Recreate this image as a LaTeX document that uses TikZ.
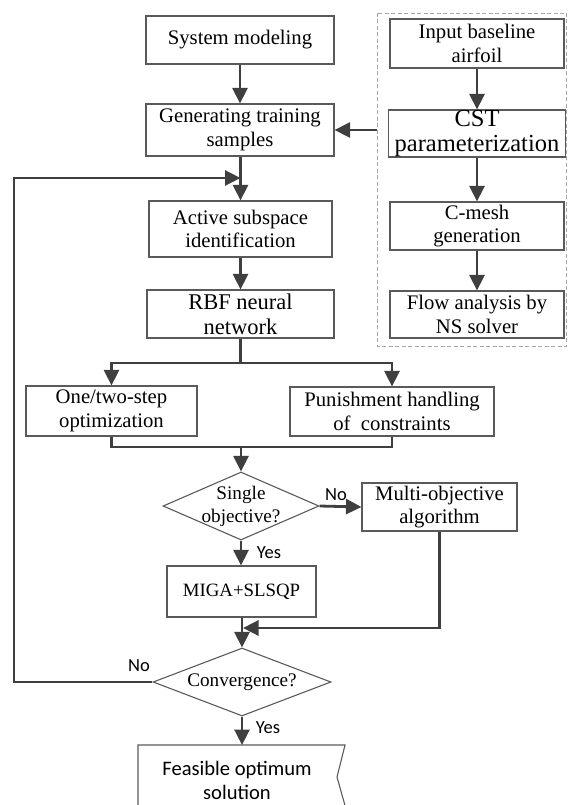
\documentclass[tikz,border=0pt]{standalone}
\usepackage{fontspec}
\setmainfont{Liberation Serif}
\newfontfamily\calibri{Carlito}
\usetikzlibrary{arrows.meta,shapes.geometric}
\definecolor{arrowgray}{HTML}{3F3F3F}
\definecolor{boxgray}{HTML}{5A5A5A}
\definecolor{dashgray}{HTML}{A6A6A6}
\begin{document}
\begin{tikzpicture}[x=1pt,y=-1pt,
  box/.style={draw=boxgray, line width=1.1pt, fill=white, rectangle, inner sep=0pt, align=center, font=\fontsize{20.7}{23.5}\selectfont},
  dia/.style={draw=boxgray, line width=1.1pt, fill=white, diamond, inner sep=0pt},
  diatext/.style={align=center, inner sep=0pt, font=\fontsize{19.2}{23}\selectfont},
  arr/.style={draw=arrowgray, line width=2.8pt, -{Triangle[length=15.5pt,width=15pt]}},
  ln/.style={draw=arrowgray, line width=2.8pt},
  yn/.style={font=\calibri\fontsize{18.5}{20}\selectfont, inner sep=0pt}]
\useasboundingbox (0,0) rectangle (567,805);

% main column
\node[box, minimum width=188pt, minimum height=48pt] (sys) at (240,40) {System modeling};
\node[box, minimum width=188pt, minimum height=52pt] (gen) at (240,130) {Generating training\\samples};
\node[box, minimum width=183pt, minimum height=56pt] (act) at (240.5,229) {Active subspace\\identification};
\node[box, minimum width=187pt, minimum height=48pt, font=\fontsize{22.5}{25}\selectfont] (rbf) at (240.5,314) {RBF neural\\network};
\node[box, minimum width=171pt, minimum height=50pt] (one) at (111.5,411) {One/two-step\\optimization};
\node[box, minimum width=204pt, minimum height=49pt] (pun) at (392,411.5) {Punishment handling\\of \ constraints};
\node[dia, minimum width=156pt, minimum height=68pt] (sd) at (241,506) {};
\node[diatext] (sdt) at (241,506.5) {Single\\objective?};
\node[box, minimum width=155pt, minimum height=48pt] (multi) at (439.5,507) {Multi-objective\\algorithm};
\node[box, minimum width=149pt, minimum height=51pt, font=\fontsize{18.8}{22}\selectfont] (miga) at (241.5,591.5) {MIGA+SLSQP};
\node[dia, minimum width=178pt, minimum height=68pt] (cv) at (242,682) {};
\node[diatext] (cvt) at (242,682) {Convergence?};

% feasible output shape (cut by page bottom)
\coordinate (ftop) at (242,745);
\draw[draw=boxgray, line width=1.1pt] (138,830) -- (138,745) -- (345,745) -- (337,777) -- (346,809) -- (348,830);
\node[font=\calibri\fontsize{20.6}{24}\selectfont, align=center, inner sep=0pt] (feas) at (237,780) {Feasible optimum\\solution};

% right dashed group
\coordinate (dnw) at (377,13);
\coordinate (dse) at (566.5,346);
\draw[draw=dashgray, line width=0.9pt, dash pattern=on 4pt off 2.5pt] (dnw) rectangle (dse);
\node[box, minimum width=174pt, minimum height=49pt] (inp) at (477,43.5) {Input baseline\\airfoil};
\node[box, minimum width=177pt, minimum height=47pt, font=\fontsize{24.5}{25}\selectfont] (cst) at (477,133.5) {CST\\parameterization};
\node[box, minimum width=174pt, minimum height=48pt] (cmesh) at (477,226) {C-mesh\\generation};
\node[box, minimum width=174pt, minimum height=47pt] (flow) at (477,314.5) {Flow analysis by\\NS solver};

% connectors right column
\draw[arr] (inp.south) -- (cst.north);
\draw[arr] (cst.south) -- (cmesh.north);
\draw[arr] (cmesh.south) -- (flow.north);
\draw[arr] (dnw |- gen.east) -- (gen.east);

% connectors main column
\draw[arr] (sys.south) -- (gen.north);
\draw[arr] (gen.south -| act.north) -- (act.north);
\coordinate (fbtop) at (14,178);
\draw[arr] (cv.west) -| (fbtop) -- (act.north |- fbtop);
\draw[arr] (act.south) -- (rbf.north);
\coordinate (sp) at (240.5,363);
\draw[ln] (rbf.south) -- (sp);
\draw[arr] (sp) -| (one.north);
\draw[arr] (sp) -| (pun.north);
\coordinate (mg) at (241,447);
\draw[ln] (one.south) |- (mg);
\draw[ln] (pun.south) |- (mg);
\draw[arr] (mg) -- (sd.north);
\draw[arr] (sd.east) -- (multi.west);
\draw[arr] (sd.south) -- (miga.north -| sd.south);
\coordinate (jn) at (243,628);
\draw[arr] (multi.south) |- (jn);
\draw[arr] (miga.south -| cv.north) -- (cv.north);
\draw[arr] (cv.south) -- (ftop);

% labels
\node[yn] (no1) at (336,495) {No};
\node[yn] (yes1) at (269,553) {Yes};
\node[yn] (no2) at (139,666) {No};
\node[yn] (yes2) at (268,728) {Yes};
\end{tikzpicture}
\end{document}
